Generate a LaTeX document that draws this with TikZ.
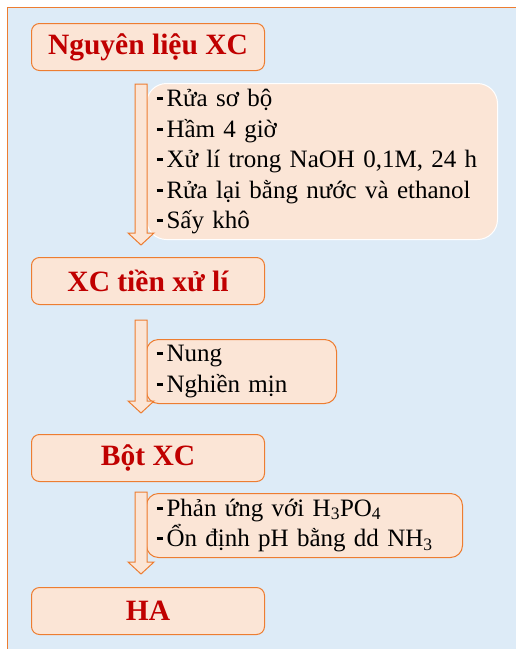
\documentclass[tikz,border=0pt]{standalone}
\usepackage{fontspec}
\setmainfont{Liberation Serif}
\usetikzlibrary{calc}
\definecolor{bgblue}{HTML}{DDEBF7}
\definecolor{peach}{HTML}{FBE5D6}
\definecolor{orangeline}{HTML}{ED7D31}
\definecolor{titlered}{HTML}{C00000}
\newcommand{\itm}{\rule[6.5pt]{6pt}{3pt}\hspace{4pt}}
% block arrow between two points
\newcommand{\flowarrow}[2]{%
  \draw[flow] let \p1=#1, \p2=#2 in
    (\x1-6pt,\y1) -- (\x1+6pt,\y1) -- (\x1+6pt,\y2+12pt) -- (\x1+13pt,\y2+12pt)
    -- (\x1,\y2) -- (\x1-13pt,\y2+12pt) -- (\x1-6pt,\y2+12pt) -- cycle;}
\begin{document}
\begin{tikzpicture}[x=1pt,y=-1pt]
    \tikzset{stage/.style={draw=orangeline, fill=peach, line width=1pt, rounded corners=8pt,
        minimum width=233pt, minimum height=47pt, text=titlered,
        font=\fontsize{29.5}{32}\selectfont\bfseries}}
    \tikzset{steps/.style={draw=orangeline, fill=peach, line width=1pt, rounded corners=12pt,
        align=left, anchor=north west, inner xsep=10pt, inner ysep=0pt,
        font=\fontsize{25}{30.5}\selectfont}}
    \tikzset{flow/.style={draw=orangeline, fill=peach, line width=1pt, line join=miter}}
    \useasboundingbox (0,0) rectangle (516,649);
    \fill[white] (0,0) rectangle (516,649);
    \draw[draw=orangeline, fill=bgblue, line width=1.6pt] (7.5,7.5) rectangle (530,660);

    % stages
    \node[stage] (raw) at (148,47) {Nguyên liệu XC};
    \node[stage] (pre) at (148,281) {XC tiền xử lí};
    \node[stage] (powder) at (148,458) {Bột XC};
    \node[stage] (ha) at (148,611) {HA};

    % treatment steps
    \node[steps, draw=white, rounded corners=20pt, minimum width=351pt, minimum height=156pt,
        text width=331pt] (wash) at (146,83)
        {\itm Rửa sơ bộ\\ \itm Hầm 4 giờ\\ \itm Xử lí trong NaOH 0,1M, 24 h\\
         \itm Rửa lại bằng nước và ethanol\\ \itm Sấy khô};
    \node[steps, minimum width=190pt, minimum height=64pt, text width=170pt] (calcine)
        at (146,339) {\itm Nung\\ \itm Nghiền mịn};
    \node[steps, minimum width=316pt, minimum height=64pt, text width=296pt] (react)
        at (146,493) {\itm Phản ứng với H\textsubscript{3}PO\textsubscript{4}\\
         \itm Ổn định pH bằng dd NH\textsubscript{3}};

    % arrows
    \flowarrow{($(raw.south)+(-7,13)$)}{($(pre.north)+(-7,-12)$)}
    \flowarrow{($(pre.south)+(-7,15)$)}{($(powder.north)+(-7,-21)$)}
    \flowarrow{($(powder.south)+(-7,10)$)}{($(ha.north)+(-7,-13)$)}
\end{tikzpicture}
\end{document}
